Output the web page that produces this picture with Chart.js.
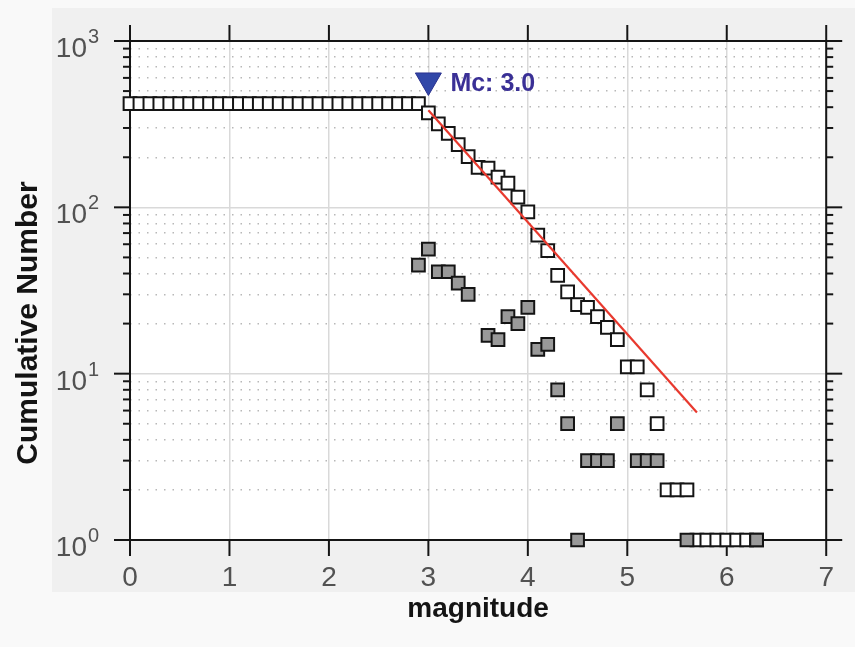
<!DOCTYPE html>
<html>
<head>
<meta charset="utf-8">
<title>Cumulative Number vs magnitude</title>
<script src="https://cdn.jsdelivr.net/npm/chart.js@4.4.1/dist/chart.umd.min.js"></script>
<style>
  html, body { margin: 0; padding: 0; background: #f9f9f9; }
  #wrap { width: 855px; height: 647px; }
</style>
</head>
<body>
<div id="wrap"><canvas id="fmdChart" width="855" height="647"></canvas></div>
<script>
const FONT = "'Liberation Sans', Arial, sans-serif";

// Cumulative number of events N(M >= m), open squares
const cumMag = [
  0.0, 0.1, 0.2, 0.3, 0.4, 0.5, 0.6, 0.7, 0.8, 0.9,
  1.0, 1.1, 1.2, 1.3, 1.4, 1.5, 1.6, 1.7, 1.8, 1.9,
  2.0, 2.1, 2.2, 2.3, 2.4, 2.5, 2.6, 2.7, 2.8, 2.9,
  3.0, 3.1, 3.2, 3.3, 3.4, 3.5, 3.6, 3.7, 3.8, 3.9,
  4.0, 4.1, 4.2, 4.3, 4.4, 4.5, 4.6, 4.7, 4.8, 4.9,
  5.0, 5.1, 5.2, 5.3, 5.4, 5.5, 5.6, 5.7, 5.8, 5.9,
  6.0, 6.1, 6.2, 6.3
];
const cumCount = [
  420, 420, 420, 420, 420, 420, 420, 420, 420, 420,
  420, 420, 420, 420, 420, 420, 420, 420, 420, 420,
  420, 420, 420, 420, 420, 420, 420, 420, 420, 420,
  370, 318, 278, 238, 202, 174, 172, 152, 140, 115,
  94, 68, 55, 39, 31, 26, 25, 22, 19, 16,
  11, 11, 8, 5, 2, 2, 2, 1, 1, 1,
  1, 1, 1, 1
];

// Non-cumulative number per magnitude bin, grey squares
const binMag = [2.9, 3.0, 3.1, 3.2, 3.3, 3.4, 3.6, 3.7, 3.8, 3.9, 4.0, 4.1, 4.2,
                4.3, 4.4, 4.5, 4.6, 4.7, 4.8, 4.9, 5.1, 5.2, 5.3, 5.6, 6.3];
const binCount = [45, 56, 41, 41, 35, 30, 17, 16, 22, 20, 25, 14, 15,
                  8, 5, 1, 3, 3, 3, 5, 3, 3, 3, 1, 1];

// Gutenberg-Richter fit line (end points)
const fitMag = [3.0, 5.7];
const fitCount = [383, 5.85];

// Magnitude of completeness marker
const mcMag = [3.0];
const mcCount = [579];
const mcText = 'Mc: 3.0';

// Axes
const xTickValues = [0, 1, 2, 3, 4, 5, 6, 7];
const yDecades = [1, 10, 100, 1000];
const yMinorSteps = [2, 3, 4, 5, 6, 7, 8, 9];

const isDecade = v => Math.abs(Math.log10(v) - Math.round(Math.log10(v))) < 1e-9;
const toXY = (xs, ys) => xs.map((x, i) => ({ x: x, y: ys[i] }));

function line(ctx, x1, y1, x2, y2) {
  ctx.beginPath();
  ctx.moveTo(x1, y1);
  ctx.lineTo(x2, y2);
  ctx.stroke();
}

/**
 * Figure background, axes box, tick marks and the labels Chart.js can't style
 */
const figurePlugin = {
  id: 'figure',
  beforeDraw(chart) {
    const { ctx, chartArea: a } = chart;
    ctx.save();
    ctx.fillStyle = '#f9f9f9';
    ctx.fillRect(0, 0, chart.width, chart.height);
    ctx.fillStyle = '#f0f0f0';
    ctx.fillRect(52, 8, chart.width - 52, 584);
    ctx.fillStyle = '#ffffff';
    ctx.fillRect(a.left, a.top, a.right - a.left, a.bottom - a.top);
    ctx.restore();
  },
  beforeDatasetsDraw(chart) {
    const { ctx, chartArea: a, scales } = chart;
    ctx.save();
    ctx.strokeStyle = '#151515';
    ctx.lineWidth = 2;
    ctx.strokeRect(a.left, a.top, a.right - a.left, a.bottom - a.top);

    xTickValues.forEach(v => {
      const px = scales.x.getPixelForValue(v);
      line(ctx, px, a.bottom, px, a.bottom + 16);
      line(ctx, px, a.top, px, a.top - 16);
    });
    scales.y.ticks.forEach(t => {
      const py = scales.y.getPixelForValue(t.value);
      const len = isDecade(t.value) ? 16 : 7;
      line(ctx, a.left, py, a.left - len, py);
      line(ctx, a.right, py, a.right + len, py);
    });
    ctx.restore();
  },
  afterDraw(chart) {
    const { ctx, scales } = chart;
    ctx.save();

    // y tick labels: 10 with superscript exponent
    ctx.fillStyle = '#525252';
    yDecades.forEach(v => {
      const py = scales.y.getPixelForValue(v);
      ctx.font = `28px ${FONT}`;
      ctx.textAlign = 'right';
      ctx.textBaseline = 'alphabetic';
      ctx.fillText('10', 87, py + 16);
      ctx.font = `20px ${FONT}`;
      ctx.textAlign = 'left';
      ctx.fillText(String(Math.round(Math.log10(v))), 88, py + 2);
    });

    // y axis title
    ctx.fillStyle = '#141414';
    ctx.font = `bold 30px ${FONT}`;
    ctx.translate(37, 323);
    ctx.rotate(-Math.PI / 2);
    ctx.textAlign = 'center';
    ctx.textBaseline = 'alphabetic';
    ctx.fillText('Cumulative Number', 0, 0);
    ctx.restore();

    // Mc annotation next to the triangle
    const mcPoint = chart.getDatasetMeta(0).data[0];
    ctx.save();
    ctx.fillStyle = '#3a3096';
    ctx.font = `bold 25px ${FONT}`;
    ctx.textAlign = 'left';
    ctx.textBaseline = 'middle';
    ctx.fillText(mcText, mcPoint.x + 22, mcPoint.y + 4);
    ctx.restore();
  }
};

const ctx = document.getElementById('fmdChart').getContext('2d');

new Chart(ctx, {
  type: 'scatter',
  data: {
    datasets: [
      {
        label: 'Mc',
        data: toXY(mcMag, mcCount),
        pointStyle: 'triangle',
        rotation: 180,
        pointRadius: 15,
        backgroundColor: '#3147a8',
        borderColor: '#2a3190',
        borderWidth: 1,
        clip: false,
        order: 0,
      },
      {
        label: 'fit',
        data: toXY(fitMag, fitCount),
        showLine: true,
        borderColor: '#e8392e',
        borderWidth: 2.2,
        pointRadius: 0,
        clip: false,
        order: 1,
      },
      {
        label: 'non-cumulative',
        data: toXY(binMag, binCount),
        pointStyle: 'rect',
        pointRadius: 9,
        backgroundColor: '#999999',
        borderColor: '#141414',
        borderWidth: 2,
        clip: false,
        order: 2,
      },
      {
        label: 'cumulative',
        data: toXY(cumMag, cumCount),
        pointStyle: 'rect',
        pointRadius: 9,
        backgroundColor: '#ffffff',
        borderColor: '#141414',
        borderWidth: 2,
        clip: false,
        order: 3,
      },
    ],
  },
  options: {
    responsive: false,
    animation: false,
    events: [],
    layout: { padding: { top: 41, right: 26, left: 0, bottom: 0 } },
    plugins: {
      legend: { display: false },
      tooltip: { enabled: false },
    },
    scales: {
      x: {
        type: 'linear',
        min: 0,
        max: 7,
        afterFit: s => { s.height = 107; },
        ticks: {
          stepSize: 1,
          padding: 21,
          color: '#525252',
          font: { family: FONT, size: 28 },
        },
        grid: { color: '#d9d9d9', lineWidth: 1.5, drawTicks: false },
        border: { display: false },
        title: {
          display: true,
          text: 'magnitude',
          color: '#141414',
          font: { family: FONT, size: 28, weight: 'bold' },
          padding: { top: 0, bottom: 21 },
        },
      },
      y: {
        type: 'logarithmic',
        min: 1,
        max: 1000,
        afterFit: s => { s.width = 130; },
        afterBuildTicks: s => {
          const ticks = [];
          yDecades.forEach(d => {
            ticks.push({ value: d, major: true });
            if (d < 1000) yMinorSteps.forEach(m => ticks.push({ value: d * m }));
          });
          s.ticks = ticks;
        },
        ticks: { display: false },
        grid: {
          drawTicks: false,
          color: c => (c.tick && !isDecade(c.tick.value) ? '#b8b8b8' : '#d9d9d9'),
          lineWidth: 1.5,
          borderDash: c => (c.tick && !isDecade(c.tick.value) ? [1.5, 7] : []),
        },
        border: {
          display: false,
          dash: c => (c.tick && !isDecade(c.tick.value) ? [1.5, 7] : []),
        },
      },
    },
  },
  plugins: [figurePlugin],
});
</script>
</body>
</html>
